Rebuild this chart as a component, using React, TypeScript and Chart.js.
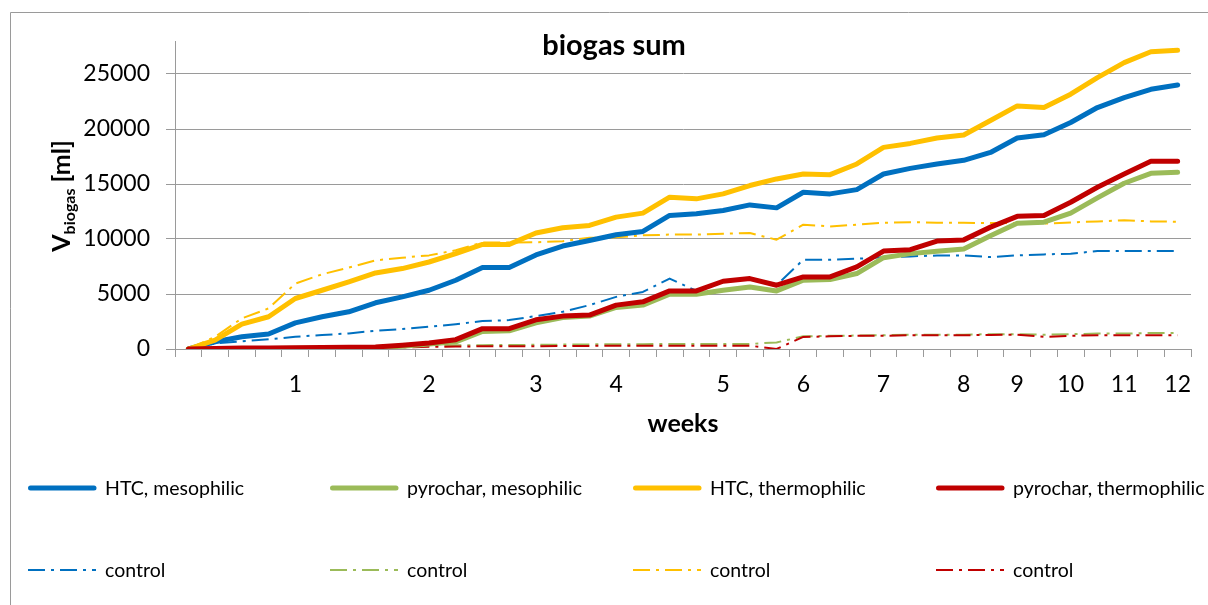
import React, { useEffect, useRef } from 'react';
import { Chart, registerables } from 'chart.js';

Chart.register(...registerables);

const FONT = 'Lato, "Open Sans", "Liberation Sans", sans-serif';

// x categories: 38 sampling points, labelled by week
const weekLabels = ['', '', '', '', '1', '', '', '', '', '2', '', '', '', '3', '', '', '4', '', '', '', '5', '', '', '6', '', '', '7', '', '', '8', '', '9', '', '10', '', '11', '', '12'];

const yTickValues = [0, 5000, 10000, 15000, 20000, 25000];
const yMax = 28000;

const htcMeso = [0, 660, 1110, 1360, 2380, 2930, 3380, 4200, 4740, 5340, 6250, 7400, 7400, 8550, 9360, 9870, 10390, 10690, 12140, 12290, 12590, 13100, 12830, 14250, 14100, 14490, 15910, 16420, 16820, 17150, 17870, 19180, 19470, 20590, 21950, 22850, 23610, 24000];
const pyroMeso = [0, 0, 20, 40, 60, 80, 100, 130, 250, 450, 650, 1600, 1650, 2380, 2870, 2990, 3780, 3990, 4980, 4980, 5340, 5640, 5280, 6250, 6310, 6860, 8300, 8670, 8880, 9100, 10300, 11440, 11530, 12350, 13740, 15070, 15970, 16060];
const htcThermo = [0, 815, 2260, 2930, 4590, 5340, 6100, 6910, 7310, 7910, 8670, 9510, 9510, 10540, 11020, 11230, 11990, 12350, 13800, 13650, 14100, 14860, 15460, 15910, 15850, 16820, 18330, 18690, 19180, 19450, 20770, 22100, 21950, 23160, 24670, 26030, 27020, 27150];
const pyroThermo = [0, 50, 80, 100, 120, 130, 150, 180, 350, 550, 850, 1850, 1850, 2650, 2990, 3080, 3990, 4290, 5280, 5280, 6160, 6400, 5800, 6550, 6550, 7460, 8900, 9030, 9810, 9920, 11080, 12060, 12140, 13340, 14700, 15910, 17060, 17060];

const htcMesoCtrl = [0, 500, 700, 880, 1110, 1270, 1420, 1660, 1810, 2020, 2260, 2540, 2630, 2990, 3380, 3990, 4740, 5190, 6400, 5280, 6100, 6400, 5800, 8120, 8120, 8210, 8330, 8420, 8500, 8510, 8360, 8510, 8600, 8670, 8900, 8900, 8900, 8900];
const pyroMesoCtrl = [0, 50, 80, 100, 120, 150, 200, 220, 250, 300, 330, 350, 360, 380, 400, 420, 430, 440, 450, 450, 450, 460, 600, 1150, 1200, 1220, 1250, 1300, 1300, 1300, 1350, 1350, 1300, 1350, 1400, 1400, 1450, 1450];
const htcThermoCtrl = [0, 1110, 2780, 3690, 5950, 6790, 7400, 8060, 8300, 8510, 8970, 9690, 9690, 9700, 9800, 10110, 10150, 10330, 10400, 10400, 10480, 10540, 9940, 11300, 11140, 11300, 11480, 11530, 11480, 11470, 11450, 11450, 11400, 11500, 11600, 11700, 11600, 11570];
const pyroThermoCtrl = [0, 30, 50, 60, 80, 100, 120, 130, 150, 200, 220, 250, 250, 250, 270, 280, 300, 300, 300, 300, 300, 300, 0, 1100, 1150, 1200, 1200, 1250, 1250, 1250, 1280, 1300, 1100, 1200, 1250, 1250, 1250, 1250];

const seriesLabels = ['HTC, mesophilic', 'pyrochar, mesophilic', 'HTC, thermophilic', 'pyrochar, thermophilic'];
const controlLabel = 'control';
const colors = ['#0070C0', '#9BBB59', '#FFC000', '#C00000'];

const GRID = '#9a9a9a';
const DASH = [17, 6, 3, 6];

function solid(label: string, data: number[], color: string, order: number) {
  return {
    label, data, borderColor: color, backgroundColor: color, borderWidth: 5,
    pointRadius: 0, pointHoverRadius: 0, tension: 0, fill: false,
    borderJoinStyle: 'round', borderCapStyle: 'round', order,
  };
}
function ctrl(label: string, data: number[], color: string, order: number) {
  return {
    label, data, borderColor: color, backgroundColor: color, borderWidth: 2,
    borderDash: DASH, pointRadius: 0, pointHoverRadius: 0, tension: 0, fill: false,
    borderJoinStyle: 'round', borderCapStyle: 'butt', order,
  };
}

const decorPlugin = {
  id: 'decor',
  beforeDraw(chart: any) {
    const ctx = chart.ctx;
    ctx.save();
    ctx.fillStyle = '#fff';
    ctx.fillRect(0, 0, chart.width, chart.height);
    ctx.strokeStyle = GRID;
    ctx.lineWidth = 1;
    ctx.beginPath();
    ctx.moveTo(10.5, 12.5);
    ctx.lineTo(10.5, chart.height);
    ctx.moveTo(10.5, 12.5);
    ctx.lineTo(chart.width, 12.5);
    ctx.stroke();
    ctx.restore();
  },
  afterDraw(chart: any) {
    const ctx = chart.ctx;
    const area = chart.chartArea;
    ctx.save();
    ctx.fillStyle = '#000';
    // title
    ctx.font = `bold 29px ${FONT}`;
    ctx.textAlign = 'center';
    ctx.textBaseline = 'alphabetic';
    ctx.fillText('biogas sum', 614, 55);
    // x title
    ctx.font = `bold 25px ${FONT}`;
    ctx.fillText('weeks', (area.left + area.right) / 2, 432);
    // y title with subscript
    ctx.save();
    ctx.translate(70, 196);
    ctx.rotate(-Math.PI / 2);
    ctx.textAlign = 'left';
    const mainFont = `bold 25px ${FONT}`;
    const subFont = `bold 16px ${FONT}`;
    ctx.font = mainFont;
    const wV = ctx.measureText('V').width;
    const wU = ctx.measureText(' [ml]').width;
    ctx.font = subFont;
    const wS = ctx.measureText('biogas').width;
    let x = -(wV + wS + wU) / 2;
    ctx.font = mainFont;
    ctx.fillText('V', x, 0);
    x += wV;
    ctx.font = subFont;
    ctx.fillText('biogas', x, 5);
    x += wS;
    ctx.font = mainFont;
    ctx.fillText(' [ml]', x, 0);
    ctx.restore();
    // legend
    const colX = [28, 330, 633, 936];
    const rowY = [488, 570];
    ctx.font = `19.5px ${FONT}`;
    ctx.textAlign = 'left';
    chart.data.datasets.forEach((ds: any, i: number) => {
      const row = i < 4 ? 0 : 1;
      const col = i % 4;
      const x0 = colX[col];
      const y0 = rowY[row];
      ctx.save();
      ctx.strokeStyle = ds.borderColor;
      ctx.lineWidth = ds.borderWidth;
      if (row === 0) {
        ctx.lineCap = 'round';
        ctx.setLineDash([]);
        ctx.beginPath();
        ctx.moveTo(x0 + 2.5, y0);
        ctx.lineTo(x0 + 66, y0);
        ctx.stroke();
      } else {
        ctx.lineCap = 'butt';
        ctx.setLineDash(ds.borderDash);
        ctx.beginPath();
        ctx.moveTo(x0, y0);
        ctx.lineTo(x0 + 68, y0);
        ctx.stroke();
      }
      ctx.restore();
      ctx.fillStyle = '#000';
      ctx.fillText(ds.label, x0 + 77, y0 + 7);
    });
    ctx.restore();
  },
};

export default function App() {
  const ref = useRef<HTMLCanvasElement>(null);
  useEffect(() => {
    document.body.style.margin = '0';
    Chart.defaults.font.family = FONT;
    const datasets: any[] = [
      solid(seriesLabels[0], htcMeso, colors[0], 4),
      solid(seriesLabels[1], pyroMeso, colors[1], 3),
      solid(seriesLabels[2], htcThermo, colors[2], 2),
      solid(seriesLabels[3], pyroThermo, colors[3], 1),
      ctrl(controlLabel, htcMesoCtrl, colors[0], 8),
      ctrl(controlLabel, pyroMesoCtrl, colors[1], 7),
      ctrl(controlLabel, htcThermoCtrl, colors[2], 6),
      ctrl(controlLabel, pyroThermoCtrl, colors[3], 5),
    ];
    const chart = new Chart(ref.current as HTMLCanvasElement, {
      type: 'line',
      data: { labels: weekLabels, datasets },
      options: {
        responsive: false,
        animation: false,
        devicePixelRatio: 1,
        events: [],
        layout: { padding: { top: 41, right: 17, left: 0, bottom: 0 } },
        plugins: { legend: { display: false }, tooltip: { enabled: false }, title: { display: false } },
        scales: {
          x: {
            type: 'category',
            offset: true,
            afterFit: (s: any) => { s.height = 605 - 349; },
            grid: { offset: true, drawOnChartArea: false, drawTicks: true, tickLength: 8, color: GRID, lineWidth: 1 },
            border: { display: true, color: GRID, width: 1 },
            ticks: { autoSkip: false, maxRotation: 0, minRotation: 0, padding: 14, color: '#000', font: { size: 23, family: FONT } },
          },
          y: {
            type: 'linear',
            min: 0,
            max: yMax,
            afterFit: (s: any) => { s.width = 175; },
            afterBuildTicks: (s: any) => { s.ticks = yTickValues.map((v) => ({ value: v })); },
            grid: { color: GRID, lineWidth: 1, tickLength: 9, drawTicks: true },
            border: { display: true, color: GRID, width: 1 },
            ticks: { padding: 16, color: '#000', font: { size: 23, family: FONT }, callback: (v: any) => String(v) },
          },
        },
      },
      plugins: [decorPlugin],
    } as any);
    return () => chart.destroy();
  }, []);
  return (
    <div style={{ position: 'absolute', left: 0, top: 0, width: 1208, height: 605, background: '#fff' }}>
      <canvas ref={ref} width={1208} height={605} style={{ display: 'block' }} />
    </div>
  );
}
